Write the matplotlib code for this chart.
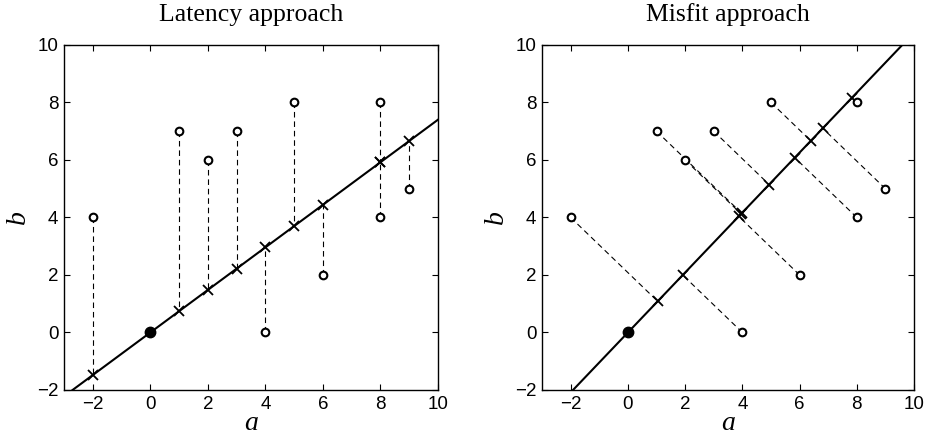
import numpy as np
import matplotlib
matplotlib.use("Agg")
import matplotlib.pyplot as plt

# data points (a, b)
a_pts = np.array([-2, 1, 2, 3, 4, 5, 6, 8, 8, 9])
b_pts = np.array([4, 7, 6, 7, 0, 8, 2, 8, 4, 5])

titles = ["Latency approach", "Misfit approach"]
ticks = [-2, 0, 2, 4, 6, 8, 10]

plt.rcParams['font.family'] = ['Liberation Sans', 'DejaVu Sans']

fig = plt.figure(figsize=(9.25, 4.38), dpi=100)
ax1 = fig.add_axes([0.0692, 0.1096, 0.4043, 0.7877])
ax2 = fig.add_axes([0.5860, 0.1096, 0.4022, 0.7877])

# latency: least squares through origin, b = x a
x_ls = np.sum(a_pts * b_pts) / np.sum(a_pts ** 2)
proj1_a = a_pts
proj1_b = x_ls * a_pts

# misfit: total least squares through origin
M = np.array([[np.sum(a_pts ** 2), np.sum(a_pts * b_pts)],
              [np.sum(a_pts * b_pts), np.sum(b_pts ** 2)]])
w, v = np.linalg.eigh(M)
d = v[:, np.argmax(w)]
x_tls = d[1] / d[0]
t = a_pts * d[0] + b_pts * d[1]
proj2_a = t * d[0]
proj2_b = t * d[1]

line_a = np.linspace(-4, 12, 50)

for ax, slope, pa, pb, title in [(ax1, x_ls, proj1_a, proj1_b, titles[0]),
                                 (ax2, x_tls, proj2_a, proj2_b, titles[1])]:
    for i in range(len(a_pts)):
        ax.plot([a_pts[i], pa[i]], [b_pts[i], pb[i]], '--', color='black', lw=0.8, dashes=(5, 3.5))
    ax.plot(line_a, slope * line_a, '-', color='black', lw=1.5)
    ax.plot(pa, pb, 'x', color='black', ms=7, mew=1.3)
    ax.plot(a_pts, b_pts, 'o', mfc='white', mec='black', ms=5.5, mew=1.5)
    ax.plot([0], [0], 'o', color='black', ms=7.5)
    ax.set_xlim(-3, 10)
    ax.set_ylim(-2, 10)
    ax.set_xticks(ticks)
    ax.set_yticks(ticks)
    ax.set_xticklabels([str(v).replace('-', '\u2212') for v in ticks])
    ax.set_yticklabels([str(v).replace('-', '\u2212') for v in ticks])
    ax.tick_params(direction='in', top=True, right=True, labelsize=13.5, length=4, width=0.8, pad=4)
    for s in ax.spines.values():
        s.set_linewidth(1.0)
    ax.set_title(title, family='Liberation Serif', fontsize=18.5, pad=17)
    ax.set_xlabel('a', family='Liberation Serif', style='italic', fontsize=20, labelpad=-1)
    ax.set_ylabel('b', family='Liberation Serif', style='italic', fontsize=20, labelpad=4)

fig.savefig("out.png", dpi=100)
